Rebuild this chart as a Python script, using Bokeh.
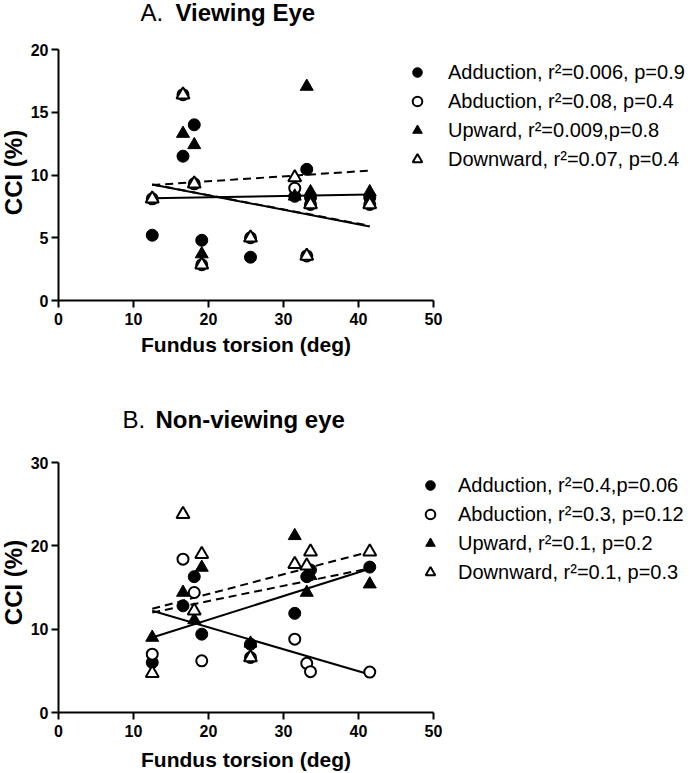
import math
from bokeh.plotting import figure
from bokeh.models import Range1d, FixedTicker, Label, Legend, LegendItem
from bokeh.layouts import column
from bokeh.embed import file_html
from bokeh.resources import INLINE

# ---------------- data ----------------
series_names = ["Adduction", "Abduction", "Upward", "Downward"]
torsion = [12.5, 16.6, 18.1, 19.1, 25.6, 31.5, 33.1, 33.6, 41.5]

# A. Viewing eye (CCI %)
view_adduction = [5.2, 11.5, 14.0, 4.8, 3.45, 8.3, 10.45, 8.2, 8.2]
view_abduction = [8.1, 16.4, 9.3, 2.85, 5.0, 8.95, 3.55, 7.65, 7.65]
view_upward = [8.1, 13.3, 12.4, 3.7, 5.0, 8.3, 17.05, 8.65, 8.65]
view_downward = [8.1, 16.4, 9.3, 2.85, 5.0, 9.8, 3.55, 7.65, 7.65]

# B. Non-viewing eye (CCI %)
nonview_adduction = [6.0, 12.8, 16.3, 9.4, 8.2, 11.9, 16.3, 17.1, 17.45]
nonview_abduction = [7.0, 18.4, 14.4, 6.2, 6.6, 8.8, 5.9, 4.9, 4.85]
nonview_upward = [9.0, 14.4, 11.1, 17.4, 8.3, 21.2, 14.4, 16.4, 15.4]
nonview_downward = [4.7, 23.8, 12.2, 19.0, 6.6, 17.8, 17.6, 19.3, 19.3]

# regression line end points (at first and last torsion value)
fit_x = [12.5, 41.5]
view_fit = {
    "Adduction": [8.15, 8.45],
    "Abduction": [9.25, 5.9],
    "Upward": [9.2, 10.35],
    "Downward": [9.25, 5.95],
}
nonview_fit = {
    "Adduction": [9.0, 17.25],
    "Abduction": [12.2, 4.55],
    "Upward": [12.0, 17.3],
    "Downward": [12.45, 19.3],
}

view_labels = [
    "Adduction, r\u00b2=0.006, p=0.9",
    "Abduction, r\u00b2=0.08, p=0.4",
    "Upward, r\u00b2=0.009,p=0.8",
    "Downward, r\u00b2=0.07, p=0.4",
]
nonview_labels = [
    "Adduction, r\u00b2=0.4,p=0.06",
    "Abduction, r\u00b2=0.3, p=0.12",
    "Upward, r\u00b2=0.1, p=0.2",
    "Downward, r\u00b2=0.1, p=0.3",
]

x_ticks = [0, 10, 20, 30, 40, 50]
x_bounds = (0, 50)
view_y_ticks = [0, 5, 10, 15, 20]
view_y_bounds = (0, 20)
nonview_y_ticks = [0, 10, 20, 30]
nonview_y_bounds = (0, 30)

FONT = "Liberation Sans"

marker_style = {
    "Adduction": dict(marker="circle", fill_color="black", size=12, line_width=1),
    "Abduction": dict(marker="circle", fill_color="white", size=11, line_width=2),
    "Upward": dict(marker="triangle", fill_color="black", size=13, line_width=1),
    "Downward": dict(marker="triangle", fill_color="white", size=13, line_width=2),
}
line_dash = {"Adduction": "solid", "Abduction": "solid", "Upward": "8 5", "Downward": "8 5"}

W = 696
AX_X = 58          # pixel column of x = 0
PX_PER_X = 7.5     # 10 deg = 75 px


def make_panel(height, ax_y, px_per_y, y_ticks, y_bounds, values, fits, labels,
               legend_xy, standoff, letter, title, title_x, title_row, ylab_cy, xlab_row):
    # the frame covers the whole canvas; axes are pinned at x=0 / y=0
    p = figure(width=W, height=height, output_backend="svg", toolbar_location=None,
               x_range=Range1d(-AX_X / PX_PER_X, (W - AX_X) / PX_PER_X),
               y_range=Range1d(-(height - ax_y) / px_per_y, ax_y / px_per_y))
    p.min_border_left = 0
    p.min_border_right = 0
    p.min_border_top = 0
    p.min_border_bottom = 0
    p.outline_line_color = None
    p.grid.visible = False
    p.background_fill_color = "white"
    p.border_fill_color = "white"

    for ax, ticks, bounds in ((p.xaxis[0], x_ticks, x_bounds), (p.yaxis[0], y_ticks, y_bounds)):
        ax.ticker = FixedTicker(ticks=ticks)
        ax.bounds = bounds
        ax.fixed_location = 0
        ax.axis_line_width = 2
        ax.axis_line_color = "black"
        ax.major_tick_line_width = 2
        ax.major_tick_line_color = "black"
        ax.major_tick_out = 7
        ax.major_tick_in = 0
        ax.minor_tick_out = 0
        ax.minor_tick_in = 0
        ax.major_label_text_font = FONT
        ax.major_label_text_font_style = "bold"
        ax.major_label_text_font_size = "16px"
        ax.major_label_text_color = "black"
    p.xaxis[0].major_label_standoff = 5
    p.yaxis[0].major_label_standoff = 3

    # regression lines
    for name in series_names:
        p.line(fit_x, fits[name], line_color="black", line_width=2, line_dash=line_dash[name])

    renderers = []
    for name in series_names:
        st = marker_style[name]
        r = p.scatter(torsion, values[name], marker=st["marker"], size=st["size"],
                      fill_color=st["fill_color"], line_color="black", line_width=st["line_width"])
        renderers.append(r)

    legend = Legend(items=[LegendItem(label=lbl, renderers=[r]) for lbl, r in zip(labels, renderers)],
                    location=legend_xy, padding=0, margin=0, spacing=1,
                    label_height=28, glyph_height=28, glyph_width=24, label_standoff=standoff,
                    label_text_font=FONT, label_text_font_size="20px", label_text_color="black",
                    border_line_alpha=0, background_fill_alpha=0)
    p.add_layout(legend)

    def sy(row):  # canvas pixel row -> screen units (from the bottom)
        return height - row

    p.add_layout(Label(x=title_x[0], y=sy(title_row), x_units="screen", y_units="screen", text=letter,
                       text_font=FONT, text_font_size="24px", text_color="black",
                       text_baseline="alphabetic", text_align="left"))
    p.add_layout(Label(x=title_x[1], y=sy(title_row), x_units="screen", y_units="screen", text=title,
                       text_font=FONT, text_font_size="24px", text_font_style="bold", text_color="black",
                       text_baseline="alphabetic", text_align="left"))
    p.add_layout(Label(x=13, y=sy(ylab_cy), x_units="screen", y_units="screen", text="CCI (%)",
                       angle=math.pi / 2, text_font=FONT, text_font_size="24px", text_font_style="bold",
                       text_color="black", text_baseline="alphabetic", text_align="center"))
    p.add_layout(Label(x=AX_X + 25 * PX_PER_X, y=sy(xlab_row), x_units="screen", y_units="screen",
                       text="Fundus torsion (deg)", text_font=FONT, text_font_size="21px",
                       text_font_style="bold", text_color="black",
                       text_baseline="alphabetic", text_align="center"))
    return p


view_values = {"Adduction": view_adduction, "Abduction": view_abduction,
               "Upward": view_upward, "Downward": view_downward}
nonview_values = {"Adduction": nonview_adduction, "Abduction": nonview_abduction,
                  "Upward": nonview_upward, "Downward": nonview_downward}

# top panel (canvas rows 0..386): y=0 at row 300, y=20 at row 49
p1 = make_panel(386, 300, 251 / 20, view_y_ticks, view_y_bounds, view_values, view_fit, view_labels,
                (405, 386 - 173), 19, "A.", "Viewing Eye", (140, 175), 12, 172, 344)
# bottom panel (canvas rows 0..387): y=0 at row 326, y=30 at row 76
p2 = make_panel(387, 326, 250 / 30, nonview_y_ticks, nonview_y_bounds, nonview_values, nonview_fit,
                nonview_labels, (418, 387 - 200), 16, "B.", "Non-viewing eye", (122, 155), 33, 196, 373)

layout = column(p1, p2)
open("out.html", "w").write(file_html(layout, INLINE))
